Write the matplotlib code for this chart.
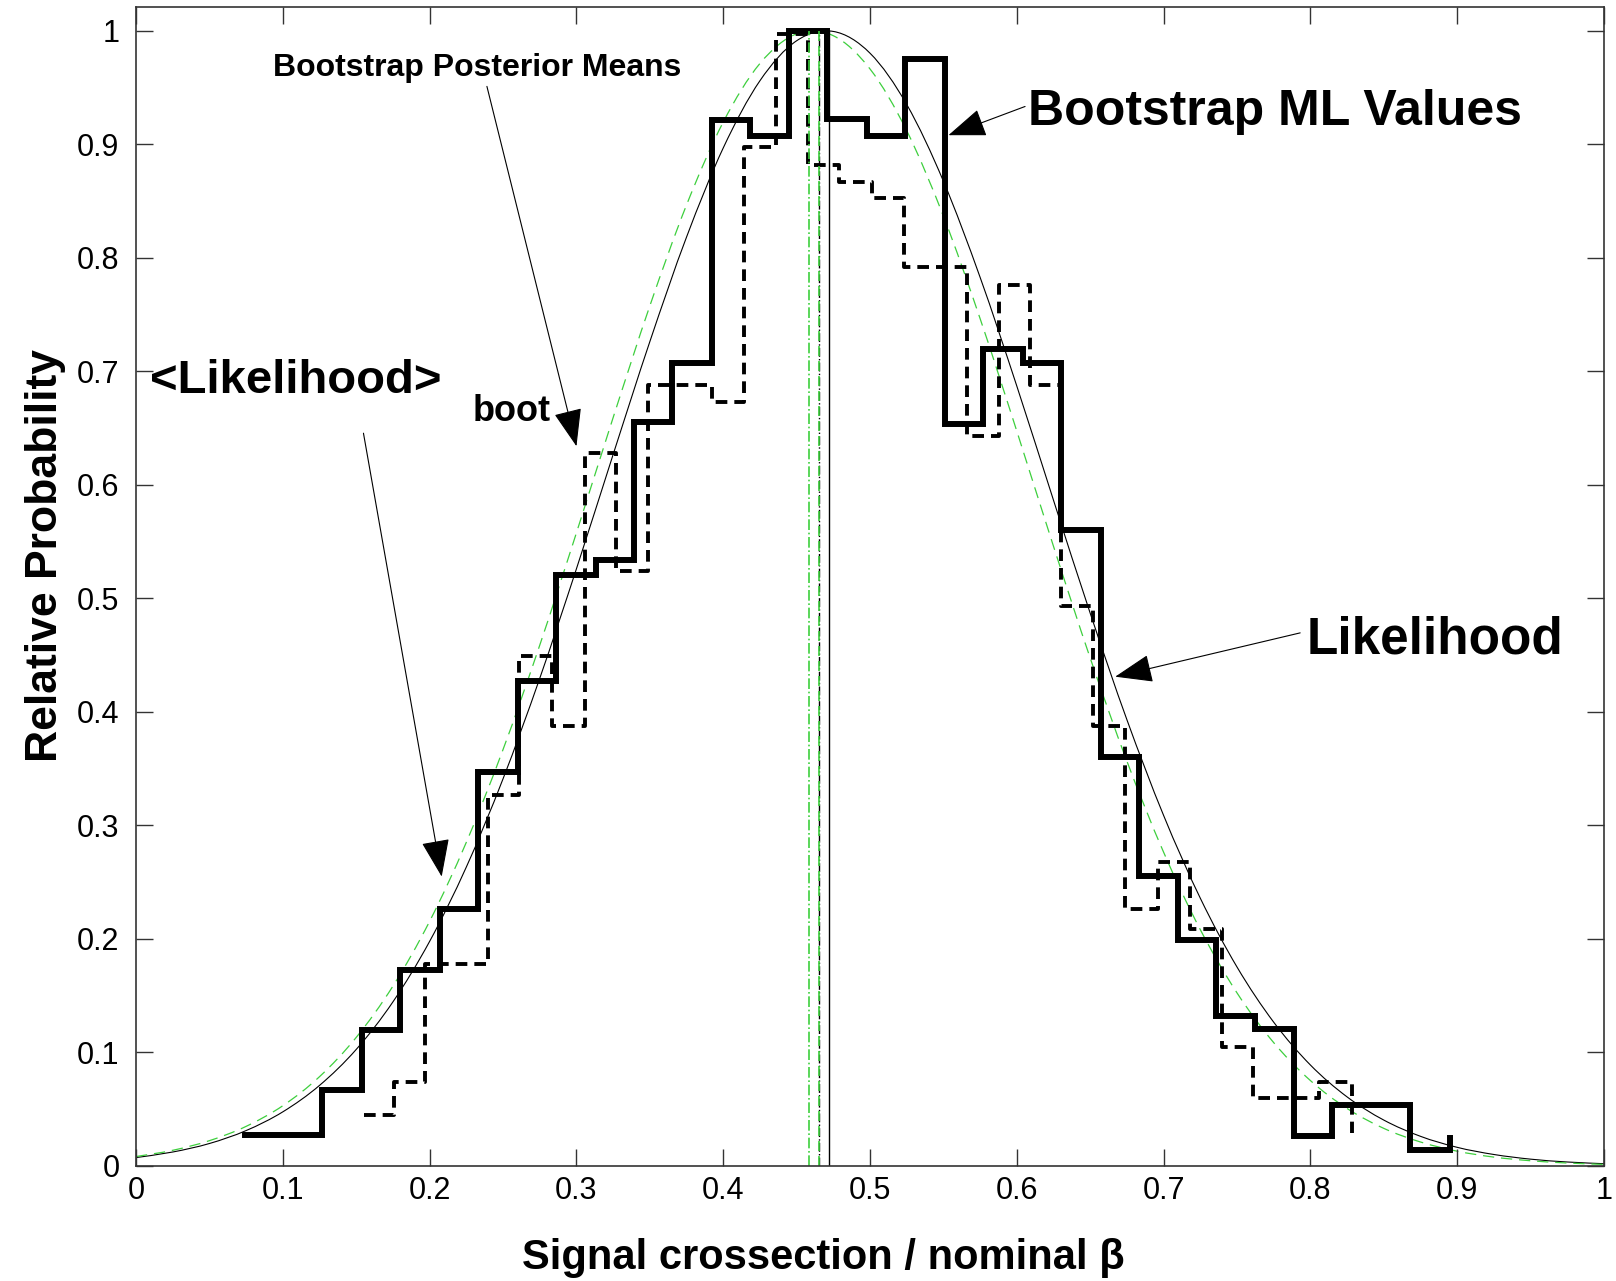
import matplotlib
matplotlib.use("Agg")
import matplotlib.pyplot as plt
from matplotlib.patches import FancyArrowPatch, PathPatch
from matplotlib.path import Path

plt.rcParams['font.family'] = ['Liberation Sans', 'DejaVu Sans']

# Bootstrap ML values histogram (stairs: edges + level of each bin, last point closes)
ml_edges = [0.074, 0.101, 0.127, 0.154, 0.180, 0.207, 0.233, 0.260, 0.286, 0.313,
            0.339, 0.365, 0.392, 0.418, 0.445, 0.471, 0.498, 0.524, 0.551, 0.577,
            0.604, 0.630, 0.657, 0.683, 0.710, 0.736, 0.762, 0.789, 0.815, 0.842,
            0.868, 0.895]
ml_vals = [0.027, 0.027, 0.067, 0.120, 0.173, 0.226, 0.347, 0.427, 0.521, 0.534,
           0.655, 0.707, 0.921, 0.907, 1.000, 0.922, 0.907, 0.975, 0.654, 0.720,
           0.707, 0.560, 0.360, 0.255, 0.199, 0.132, 0.121, 0.026, 0.054, 0.054,
           0.014, 0.025]

# Bootstrap posterior means histogram
pm_edges = [0.155, 0.176, 0.197, 0.218, 0.240, 0.261, 0.283, 0.306, 0.327, 0.349,
            0.371, 0.392, 0.414, 0.436, 0.458, 0.479, 0.501, 0.523, 0.545, 0.566,
            0.588, 0.609, 0.630, 0.652, 0.674, 0.696, 0.718, 0.740, 0.761, 0.784,
            0.806, 0.828]
pm_vals = [0.045, 0.074, 0.178, 0.178, 0.327, 0.449, 0.388, 0.628, 0.524, 0.688,
           0.688, 0.673, 0.898, 0.997, 0.882, 0.867, 0.853, 0.792, 0.792, 0.643,
           0.776, 0.688, 0.493, 0.388, 0.226, 0.268, 0.209, 0.105, 0.060, 0.060,
           0.074, 0.029]

curve_x = [0.000, 0.025, 0.050, 0.075, 0.100, 0.125, 0.150, 0.175, 0.200, 0.225,
           0.250, 0.275, 0.300, 0.325, 0.350, 0.375, 0.400, 0.425, 0.450, 0.475,
           0.500, 0.525, 0.550, 0.575, 0.600, 0.625, 0.650, 0.675, 0.700, 0.725,
           0.750, 0.775, 0.800, 0.825, 0.850, 0.875, 0.900, 0.925, 0.950, 0.975,
           1.000]
likelihood = [0.0074, 0.0123, 0.0198, 0.0312, 0.0477, 0.0710, 0.1027, 0.1446, 0.1979, 0.2634,
              0.3411, 0.4296, 0.5261, 0.6268, 0.7262, 0.8183, 0.8968, 0.9560, 0.9912, 0.9994,
              0.9802, 0.9350, 0.8674, 0.7827, 0.6869, 0.5863, 0.4868, 0.3930, 0.3087, 0.2358,
              0.1752, 0.1266, 0.0889, 0.0608, 0.0404, 0.0261, 0.0164, 0.0101, 0.0060, 0.0035,
              0.0020]
likelihood_boot = [0.0083, 0.0138, 0.0223, 0.0349, 0.0531, 0.0787, 0.1133, 0.1585, 0.2156, 0.2852,
                   0.3669, 0.4588, 0.5578, 0.6593, 0.7577, 0.8466, 0.9196, 0.9712, 0.9973, 0.9956,
                   0.9663, 0.9119, 0.8366, 0.7463, 0.6472, 0.5457, 0.4473, 0.3565, 0.2763, 0.2081,
                   0.1524, 0.1086, 0.0752, 0.0506, 0.0331, 0.0211, 0.0130, 0.0078, 0.0046, 0.0026,
                   0.0014]

# vertical marker lines (means)
mean_boot_dashdot = 0.4587
mean_boot_dash = 0.4653
mean_like_dashdot = 0.4655
mean_like = 0.4717

green = '#3dcf3d'


def smooth_curve(xs, ys):
    # draw the read points joined by Catmull-Rom style bezier pieces
    n = len(xs)
    verts = [(xs[0], ys[0])]
    codes = [Path.MOVETO]
    for i in range(n - 1):
        a = max(i - 1, 0)
        b = min(i + 2, n - 1)
        c1 = (xs[i] + (xs[i + 1] - xs[a]) / 6, ys[i] + (ys[i + 1] - ys[a]) / 6)
        c2 = (xs[i + 1] - (xs[b] - xs[i]) / 6, ys[i + 1] - (ys[b] - ys[i]) / 6)
        verts += [c1, c2, (xs[i + 1], ys[i + 1])]
        codes += [Path.CURVE4] * 3
    return Path(verts, codes)


fig = plt.figure(figsize=(16.16, 12.81), dpi=100)
ax = fig.add_axes([0.0842, 0.0898, 0.9084, 0.9048])

ax.step(ml_edges, ml_vals, where='post', color='black', lw=4.3, solid_joinstyle='miter')
ax.step(pm_edges, pm_vals, where='post', color='black', lw=2.8, linestyle=(0, (3.0, 1.8)))

ax.plot([mean_like_dashdot] * 2, [0, 1], color='black', lw=1.0, linestyle='-.')
ax.plot([mean_boot_dash] * 2, [0, 1], color=green, lw=1.2, linestyle=(0, (6, 3)))
ax.plot([mean_boot_dashdot] * 2, [0, 1], color=green, lw=1.2, linestyle='-.')
ax.plot([mean_like] * 2, [0, 1], color='black', lw=1.0)

ax.add_patch(PathPatch(smooth_curve(curve_x, likelihood), facecolor='none',
                       edgecolor='black', lw=0.8))
ax.add_patch(PathPatch(smooth_curve(curve_x, likelihood_boot), facecolor='none',
                       edgecolor=green, lw=0.9, linestyle=(0, (9, 5.5))))

ax.set_xlim(0, 1)
ax.set_ylim(0, 1.021)
ticks = [0, 0.1, 0.2, 0.3, 0.4, 0.5, 0.6, 0.7, 0.8, 0.9, 1]
tick_labels = ['0', '0.1', '0.2', '0.3', '0.4', '0.5', '0.6', '0.7', '0.8', '0.9', '1']
ax.set_xticks(ticks)
ax.set_xticklabels(tick_labels)
ax.set_yticks(ticks)
ax.set_yticklabels(tick_labels)
ax.tick_params(direction='in', length=12, width=1, top=True, right=True,
               labelsize=22, color='#333333')
ax.tick_params(axis='x', pad=7)
ax.tick_params(axis='y', pad=12)
for s in ax.spines.values():
    s.set_color('#333333')
    s.set_linewidth(1.2)

ax.set_xlabel('Signal crossection / nominal β', fontsize=30, fontweight='bold')
ax.xaxis.set_label_coords(0.468, -0.062)
ax.set_ylabel('Relative Probability', fontsize=32, fontweight='bold')
ax.yaxis.set_label_coords(-0.048, 0.527)

# annotations
ax.text(0.0933, 0.960, 'Bootstrap Posterior Means', fontsize=23, fontweight='bold',
        ha='left', va='baseline')
ax.text(0.6076, 0.917, 'Bootstrap ML Values', fontsize=36, fontweight='bold',
        ha='left', va='baseline')
ax.text(0.7977, 0.451, 'Likelihood', fontsize=37, fontweight='bold',
        ha='left', va='baseline')
ax.text(0.0095, 0.681, '<Likelihood>', fontsize=34, fontweight='bold',
        ha='left', va='baseline')
ax.text(0.2296, 0.656, 'boot', fontsize=26, fontweight='bold',
        ha='left', va='baseline')

arrows = [
    ((0.239, 0.951), (0.300, 0.634)),
    ((0.1549, 0.6455), (0.2082, 0.2549)),
    ((0.6056, 0.9333), (0.5534, 0.908)),
    ((0.793, 0.4696), (0.667, 0.431)),
]
for start, end in arrows:
    ax.add_patch(FancyArrowPatch(start, end, arrowstyle='-|>,head_length=1.2,head_width=0.45',
                                 mutation_scale=20, color='black', lw=0.8,
                                 shrinkA=0, shrinkB=0))

fig.savefig('out.png', dpi=100)
